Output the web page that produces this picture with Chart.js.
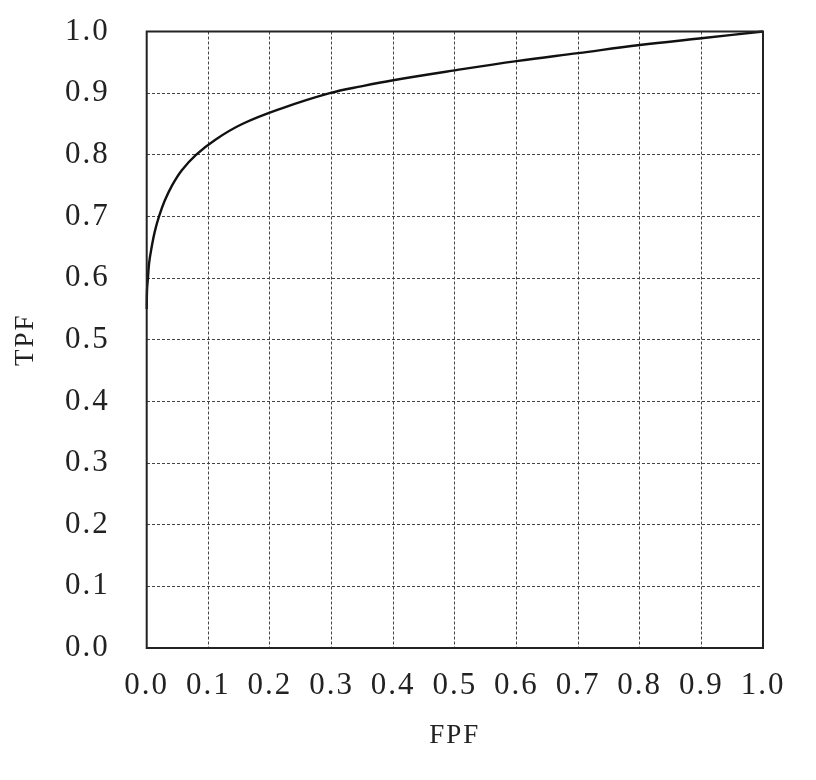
<!DOCTYPE html>
<html>
<head>
<meta charset="utf-8">
<script src="https://cdn.jsdelivr.net/npm/chart.js@4/dist/chart.umd.min.js"></script>
<style>
  html, body { margin: 0; padding: 0; background: #fff; }
  #roc { display: block; }
</style>
</head>
<body>
<canvas id="roc" width="816" height="780"></canvas>
<script>
// ROC curve
var fpf = [0, 0.0005, 0.002, 0.004, 0.008, 0.013, 0.020, 0.029, 0.041, 0.057, 0.080, 0.112, 0.155, 0.218, 0.297, 0.35, 0.40, 0.50, 0.60, 0.70, 0.80, 0.90, 1.00];
var tpf = [0.55, 0.58, 0.60, 0.625, 0.65, 0.675, 0.70, 0.725, 0.75, 0.775, 0.80, 0.825, 0.85, 0.875, 0.90, 0.9115, 0.921, 0.937, 0.952, 0.965, 0.978, 0.989, 1.00];
var tickValues = [0, 0.1, 0.2, 0.3, 0.4, 0.5, 0.6, 0.7, 0.8, 0.9, 1.0];

var serif = "'Liberation Serif', 'DejaVu Serif', serif";

// spacing of the letters, and the box round the plot
var framePlugin = {
    id: 'frame',
    beforeDraw: function (chart) {
        chart.ctx.letterSpacing = '2px';
    },
    afterDraw: function (chart) {
        var a = chart.chartArea, ctx = chart.ctx;
        ctx.save();
        ctx.strokeStyle = '#222';
        ctx.lineWidth = 2;
        ctx.setLineDash([]);
        ctx.strokeRect(a.left, a.top, a.right - a.left, a.bottom - a.top);
        ctx.restore();
    }
};

new Chart(document.getElementById('roc').getContext('2d'), {
    type: 'scatter',
    data: {
        datasets: [{
            data: fpf.map(function (x, i) { return { x: x, y: tpf[i] }; }),
            showLine: true,
            borderColor: '#111',
            borderWidth: 2.4,
            pointRadius: 0,
            tension: 0.4,
            clip: false
        }]
    },
    options: {
        responsive: false,
        animation: false,
        devicePixelRatio: 1,
        layout: { padding: { left: 0, top: 31.5, right: 53, bottom: 0 } },
        plugins: { legend: { display: false }, tooltip: { enabled: false } },
        scales: {
            x: {
                type: 'linear',
                min: 0, max: 1,
                afterBuildTicks: function (s) { s.ticks = tickValues.map(function (v) { return { value: v }; }); },
                afterFit: function (s) { s.height = 132; s.paddingLeft = 0; s.paddingRight = 0; },
                ticks: {
                    callback: function (v) { return v.toFixed(1); },
                    font: { family: serif, size: 31, lineHeight: 1.2 },
                    color: '#222',
                    padding: 19,
                    maxRotation: 0
                },
                grid: {
                    color: '#444',
                    lineWidth: 1,
                    drawTicks: false
                },
                border: { display: false, dash: [3, 2] },
                title: {
                    display: true,
                    text: 'FPF',
                    font: { family: serif, size: 27, lineHeight: 1.2 },
                    color: '#222',
                    padding: { top: 0, bottom: 28 }
                }
            },
            y: {
                type: 'linear',
                min: 0, max: 1,
                afterBuildTicks: function (s) { s.ticks = tickValues.map(function (v) { return { value: v }; }); },
                afterFit: function (s) { s.width = 146.7; s.paddingTop = 0; s.paddingBottom = 0; },
                ticks: {
                    callback: function (v) { return v.toFixed(1); },
                    font: { family: serif, size: 31, lineHeight: 1.2 },
                    color: '#222',
                    padding: 37
                },
                grid: {
                    color: '#444',
                    lineWidth: 1,
                    drawTicks: false
                },
                border: { display: false, dash: [3, 2] },
                title: {
                    display: true,
                    text: 'TPF',
                    font: { family: serif, size: 27, lineHeight: 1.2 },
                    color: '#222',
                    padding: { top: 10, bottom: 0 }
                }
            }
        }
    },
    plugins: [framePlugin]
});
</script>
</body>
</html>
